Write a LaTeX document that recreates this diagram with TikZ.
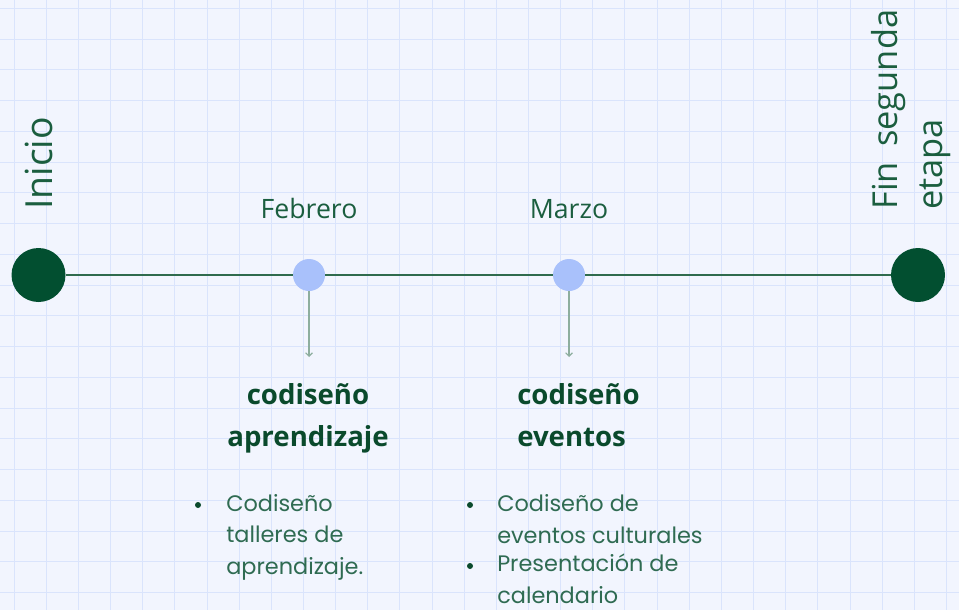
\documentclass[tikz,border=0pt]{standalone}
\usepackage{fontspec}
\setmainfont{Open Sans}
\newfontfamily\listfont{Poppins}
\usetikzlibrary{arrows.meta,positioning}
\definecolor{bgpaper}{HTML}{F2F5FE}
\definecolor{gridline}{HTML}{DAE4FC}
\definecolor{darkgreen}{HTML}{024F30}
\definecolor{textgreen}{HTML}{1B5E3F}
\definecolor{titlegreen}{HTML}{0A4A2C}
\definecolor{listgreen}{HTML}{2F6B52}
\definecolor{linegreen}{HTML}{2F6B4E}
\definecolor{stemgray}{HTML}{8DAE9E}
\definecolor{dotblue}{HTML}{A9C1FB}

\tikzset{
  bigdot/.style={circle,fill=darkgreen,minimum size=40.5pt,inner sep=0},
  smalldot/.style={circle,fill=dotblue,minimum size=24pt,inner sep=0},
  timeline/.style={linegreen,line width=1.7pt},
  stem/.style={stemgray,line width=0.9pt,-{Straight Barb[length=2.5pt,width=5pt]}},
  sidelabel/.style={rotate=90,inner sep=0,text=textgreen,align=left},
  monthlabel/.style={inner sep=0,text=textgreen,font=\fontsize{20}{24}\selectfont},
  phasetitle/.style={inner sep=0,text=titlegreen,font=\bfseries\fontsize{20.7}{31}\selectfont},
  itemtext/.style={inner sep=0,text=listgreen,font=\listfont\fontsize{16.8}{23.3}\selectfont,align=left},
  bulletdot/.style={circle,fill=titlegreen,minimum size=4.5pt,inner sep=0}
}

\begin{document}
\begin{tikzpicture}[x=0.75pt,y=-0.75pt]
  % paper with grid
  \fill[bgpaper] (0,0) rectangle (959,610);
  \useasboundingbox (0,0) rectangle (959,610);
  \foreach \i in {0,...,29}
    \draw[gridline,line width=0.6pt] ({14+32.15*\i},0) -- ++(0,610);
  \foreach \j in {0,...,19}
    \draw[gridline,line width=0.6pt] (0,{8.3+30.75*\j}) -- ++(959,0);

  % milestones
  \node[bigdot] (ini) at (38.5,275) {};
  \node[smalldot] (feb) at (309,275) {};
  \node[smalldot] (mar) at (569,275) {};
  \node[bigdot] (fin) at (918,275) {};
  \draw[timeline] (ini) -- (feb) -- (mar) -- (fin);

  \node[sidelabel,font=\fontsize{28}{34}\selectfont,anchor=base west] (inilabel) at (52,210) {Inicio};
  \node[sidelabel,font=\fontsize{25.8}{34}\selectfont,anchor=north west] (finlabel) at (871,210) {Fin\hspace{0.45em}segunda\\etapa};
  \node[monthlabel,anchor=base] (feblabel) at (309,218) {Febrero};
  \node[monthlabel,anchor=base] (marlabel) at (569,218) {Marzo};

  % stems down to each phase
  \coordinate (febend) at (309,357);
  \coordinate (marend) at (569,357);
  \draw[stem] (feb) -- (febend);
  \draw[stem] (mar) -- (marend);

  \node[phasetitle,align=center,anchor=base] (feptitle) at (308,446) {codiseño\\aprendizaje};
  \node[phasetitle,align=left,anchor=base west] (martitle) at (517,446) {codiseño\\eventos};

  % bullet lists
  \node[bulletdot] (febdot) at (198,505) {};
  \node[itemtext,anchor=base west] (febitem) at (226,574) {Codiseño\\talleres de\\aprendizaje.};
  \node[bulletdot] (mardota) at (470,505) {};
  \node[itemtext,anchor=base west] (maritema) at (497,543) {Codiseño de\\eventos culturales};
  \node[bulletdot] (mardotb) at (470,566) {};
  \node[itemtext,anchor=base west] (maritemb) at (497,603) {Presentación de\\calendario};
\end{tikzpicture}
\end{document}
